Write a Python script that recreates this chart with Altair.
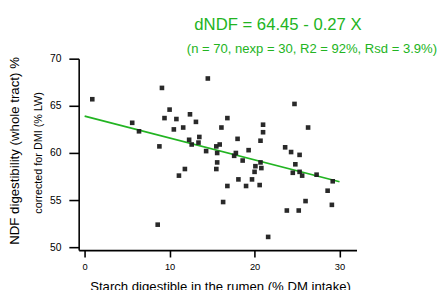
import altair as alt
import pandas as pd

# Scatter values
starch = [0.9, 9.1, 9.4, 5.6, 6.4, 8.8, 8.6, 14.5, 10.0, 10.8, 12.4, 13.1, 16.8, 10.5,
          11.6, 16.1, 12.3, 13.5, 13.4, 12.6, 14.3, 15.5, 15.9, 15.6, 18.0, 17.8, 19.3,
          24.7, 26.3, 21.0, 21.0, 20.7, 23.6, 24.3, 25.3, 15.6, 15.5, 18.6, 11.8, 11.1,
          16.8, 18.1, 19.0, 19.7, 16.3, 17.6, 20.1, 20.7, 20.8, 20.0, 24.8, 24.5, 25.3,
          25.6, 27.3, 29.2, 28.6, 29.1, 20.6, 26.0, 23.8, 25.2, 21.6]
ndf = [65.7, 66.9, 63.7, 63.2, 62.3, 60.7, 52.4, 67.9, 64.6, 63.6, 64.1, 63.3, 63.7, 62.5,
       62.7, 62.7, 61.4, 61.7, 61.1, 60.9, 60.2, 60.7, 60.9, 60.0, 61.5, 60.0, 60.3,
       65.2, 62.7, 63.0, 62.2, 61.3, 60.6, 60.1, 59.8, 59.0, 58.3, 59.2, 58.3, 57.6,
       56.5, 57.2, 56.5, 57.2, 54.8, 59.7, 58.6, 59.0, 58.4, 58.0, 58.8, 57.9, 58.0,
       57.6, 57.7, 57.0, 56.0, 54.5, 56.6, 54.9, 53.9, 53.9, 51.1]

# Fitted line endpoints as drawn
fit_x = [0, 30]
fit_y = [63.9, 56.95]

x_ticks = [0, 10, 20, 30]
y_ticks = [50, 55, 60, 65, 70]

title_text = "dNDF = 64.45 - 0.27 X"
subtitle_text = "(n = 70, nexp = 30, R2 = 92%, Rsd = 3.9%)"
y_title_1 = "NDF digestibility (whole tract) %"
y_title_2 = "corrected for DMI (% LW)"
x_title = "Starch digestible in the rumen (% DM intake)"

FONT = "Liberation Sans"
GREEN = "#22b422"

pts = pd.DataFrame({"x": starch, "y": ndf})
fit = pd.DataFrame({"x": fit_x, "y": fit_y})
one = pd.DataFrame({"t": [0]})

xs = alt.Scale(domain=[-0.7, 32], nice=False, zero=False)
ys = alt.Scale(domain=[49.7, 70], nice=False, zero=False)

xaxis = alt.Axis(values=x_ticks, title=x_title, grid=False, tickSize=7,
                 labelPadding=5, labelFontSize=9.5, labelFont=FONT,
                 titleFont=FONT, titleFontSize=13.4, titleFontWeight="normal",
                 titleX=144, titleY=30, titleBaseline="top", titleAlign="center",
                 domainColor="black", tickColor="black", domainWidth=1.6, tickWidth=1.6,
                 labelColor="black", titleColor="black")
yaxis = alt.Axis(values=y_ticks, title=None, grid=False, tickSize=10,
                 labelPadding=8, labelFontSize=10.5, labelFont=FONT,
                 domainColor="black", tickColor="black", domainWidth=1.6, tickWidth=1.6,
                 labelColor="black")

points = alt.Chart(pts).mark_square(size=22, color="#1e1e1e", opacity=0.95).encode(
    x=alt.X("x:Q", scale=xs, axis=xaxis),
    y=alt.Y("y:Q", scale=ys, axis=yaxis),
)

line = alt.Chart(fit).mark_line(color=GREEN, strokeWidth=1.8).encode(
    x=alt.X("x:Q", scale=xs), y=alt.Y("y:Q", scale=ys)
)

title = alt.Chart(one).mark_text(text=title_text, font=FONT, fontSize=17, color=GREEN,
                                 align="center", baseline="alphabetic").encode(
    x=alt.value(203), y=alt.value(-29))
subtitle = alt.Chart(one).mark_text(text=subtitle_text, font=FONT, fontSize=13.3, color=GREEN,
                                    align="right", baseline="alphabetic").encode(
    x=alt.value(365), y=alt.value(-6))
yt1 = alt.Chart(one).mark_text(text=y_title_1, font=FONT, fontSize=13.5, color="black",
                               angle=270, align="center", baseline="middle").encode(
    x=alt.value(-65), y=alt.value(94))
yt2 = alt.Chart(one).mark_text(text=y_title_2, font=FONT, fontSize=11, color="black",
                               angle=270, align="center", baseline="middle").encode(
    x=alt.value(-40), y=alt.value(96))

chart = alt.layer(line, points, title, subtitle, yt1, yt2).properties(
    width=283, height=195,
    autosize=alt.AutoSizeParams(type="none"),
    padding={"left": 72, "top": 49, "right": 83, "bottom": 38},
).configure_view(stroke=None)

chart.save("out.html", embed_options={"renderer": "svg", "actions": False})
